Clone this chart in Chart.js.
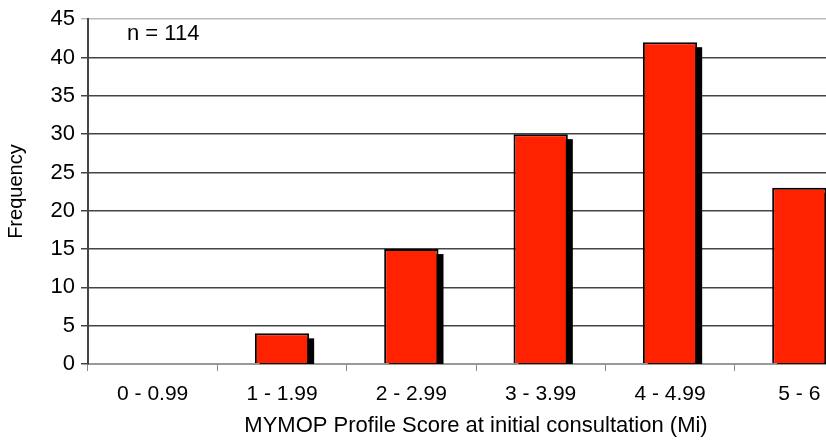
<!DOCTYPE html>
<html lang="en">
<head>
<meta charset="UTF-8">
<title>MYMOP Profile Score</title>
<script src="https://cdn.jsdelivr.net/npm/chart.js@4.4.0/dist/chart.umd.min.js"></script>
<style>
  html, body { margin: 0; padding: 0; background: #fff; overflow: hidden; }
  #wrap { width: 870px; height: 440px; }
</style>
</head>
<body>
<div id="wrap"><canvas id="chart" width="870" height="440"></canvas></div>
<script>
const categories = ['0 - 0.99', '1 - 1.99', '2 - 2.99', '3 - 3.99', '4 - 4.99', '5 - 6'];
const frequency = [0, 4, 15, 30, 42, 23];
const yMax = 45;
const note = 'n = 114';

const FONT = 'Arial, "Liberation Sans", sans-serif';

// black drop shadow behind each bar, drawn before the bars
const barShadow = {
  id: 'barShadow',
  beforeDatasetsDraw(chart) {
    const ctx = chart.ctx;
    const area = chart.chartArea;
    ctx.save();
    ctx.beginPath();
    ctx.rect(area.left, area.top, area.right - area.left, area.bottom - area.top);
    ctx.clip();
    ctx.fillStyle = '#000';
    chart.getDatasetMeta(0).data.forEach(bar => {
      const p = bar.getProps(['x', 'y', 'base', 'width'], true);
      if (p.base - p.y < 1) return;
      ctx.fillRect(p.x - p.width / 2 + 5, p.y + 5, p.width, p.base - p.y);
    });
    ctx.restore();
  }
};

// "n = 114" label
const noteLabel = {
  id: 'noteLabel',
  afterDraw(chart) {
    const ctx = chart.ctx;
    ctx.save();
    ctx.font = '22px ' + FONT;
    ctx.fillStyle = '#000';
    ctx.textBaseline = 'middle';
    ctx.fillText(note, 127, 34);
    ctx.restore();
  }
};

new Chart(document.getElementById('chart'), {
  type: 'bar',
  data: {
    labels: categories,
    datasets: [{
      data: frequency,
      backgroundColor: '#ff2200',
      borderColor: '#000',
      borderWidth: 2,
      barPercentage: 0.42,
      categoryPercentage: 1.0
    }]
  },
  options: {
    responsive: false,
    animation: false,
    layout: { padding: { top: 19, right: 6, left: 0, bottom: 0 } },
    plugins: { legend: { display: false }, tooltip: { enabled: false } },
    scales: {
      x: {
        afterFit: s => { s.height = 76; },
        grid: {
          offset: true,
          drawOnChartArea: false,
          tickLength: 7,
          color: '#888'
        },
        border: { color: '#999', width: 2 },
        ticks: { color: '#000', font: { family: FONT, size: 21 }, padding: 11 },
        title: {
          display: true,
          text: 'MYMOP Profile Score at initial consultation (Mi)',
          color: '#000',
          font: { family: FONT, size: 22 },
          padding: { top: 2, bottom: 1 }
        }
      },
      y: {
        min: 0,
        max: yMax,
        afterFit: s => { s.width = 88; },
        ticks: { stepSize: 5, color: '#000', font: { family: FONT, size: 22 }, padding: 6 },
        grid: {
          color: c => c.tick && c.tick.value === yMax ? '#bbb' : '#444',
          tickLength: 7,
          lineWidth: 1.5
        },
        border: { color: '#444', width: 2 },
        title: {
          display: true,
          text: 'Frequency',
          color: '#000',
          font: { family: FONT, size: 20 },
          padding: { bottom: 2 }
        }
      }
    }
  },
  plugins: [barShadow, noteLabel]
});
</script>
</body>
</html>
